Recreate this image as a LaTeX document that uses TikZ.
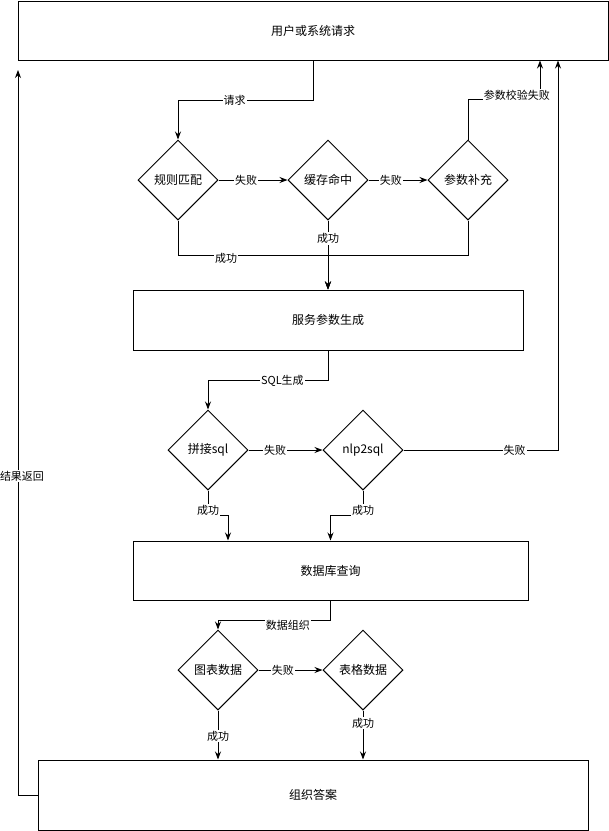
\documentclass[tikz,border=0pt]{standalone}
\usepackage{fontspec}
\setmainfont{Noto Sans CJK SC}
\usetikzlibrary{shapes.geometric, arrows.meta}

\begin{document}
\begin{tikzpicture}[x=1pt, y=-1pt]

\tikzset{box/.style = {shape=rectangle, draw, line width=1pt, inner sep=0pt, font=\fontsize{12}{14}\selectfont}}
\tikzset{decision/.style = {shape=diamond, draw, line width=1pt, minimum width=80pt, minimum height=80pt, inner sep=0pt, font=\fontsize{12}{14}\selectfont}}
\tikzset{edge/.style = {-{Stealth[length=8pt,width=6pt]}, line width=1pt}}
\tikzset{lbl/.style = {fill=white, inner sep=1pt, font=\fontsize{11}{13}\selectfont}}

\useasboundingbox (0,0) rectangle (609,831);

%boxes
\node[box, minimum width=590pt, minimum height=59pt] (req) at (313,30.5) {用户或系统请求};
\node[box, minimum width=390pt, minimum height=60pt] (svc) at (328,320) {服务参数生成};
\node[box, minimum width=395pt, minimum height=59pt] (db) at (330.5,570.5) {数据库查询};
\node[box, minimum width=550pt, minimum height=70pt] (ans) at (313,795) {组织答案};
%decisions
\node[decision] (rule) at (178,180) {规则匹配};
\node[decision] (cache) at (328,180) {缓存命中};
\node[decision] (param) at (468,180) {参数补充};
\node[decision] (concat) at (208,450) {拼接sql};
\node[decision] (nlp) at (363,450) {nlp2sql};
\node[decision] (chart) at (218,670) {图表数据};
\node[decision] (table) at (363,670) {表格数据};
\coordinate (ret) at (18,70);

%edges
\draw[edge] (req.south) -- ++(0,40) -| node[lbl, pos=0.29] {请求} (rule.north);
\draw[edge] (rule) -- node[lbl, pos=0.4] {失败} (cache);
\draw[edge] (cache) -- node[lbl, pos=0.38] {失败} (param);
\draw[edge] (param.north) -- ++(0,-40) -| node[lbl, pos=0.34, yshift=4pt] {参数校验失败} ([xshift=227pt]req.south);
\draw[edge] (cache) -- node[lbl, pos=0.26] {成功} (svc);
\draw[edge] (rule.south) -- ++(0,35) -| node[lbl, pos=0.16, yshift=-3pt] {成功} (svc.north);
\draw[edge] (param.south) -- ++(0,35) -| (svc.north);
\draw[edge] (svc.south) -- ++(0,30) -| node[lbl, pos=0.19] {SQL生成} (concat.north);
\draw[edge] (concat) -- node[lbl, pos=0.36] {失败} (nlp);
\draw[edge] (nlp.east) -| node[lbl, pos=0.36] {失败} ([xshift=245pt]req.south);
\draw[edge] (concat.south) -- node[lbl, pos=0.8] {成功} ++(0,25) -| ([xshift=-102.5pt]db.north);
\draw[edge] (nlp.south) -- node[lbl, pos=0.8] {成功} ++(0,25) -| (db.north);
\draw[edge] (db.south) -- ++(0,20) -| node[lbl, pos=0.19, yshift=-5pt] {数据组织} (chart.north);
\draw[edge] (chart) -- node[lbl, pos=0.38] {失败} (table);
\draw[edge] (chart.south) -- node[lbl, pos=0.52] {成功} (chart.south |- ans.north);
\draw[edge] (table.south) -- node[lbl, pos=0.26] {成功} (table.south |- ans.north);
\draw[edge] (ans.west) -| node[lbl, pos=0.72, xshift=4pt] {结果返回} (ret);

\end{tikzpicture}
\end{document}
